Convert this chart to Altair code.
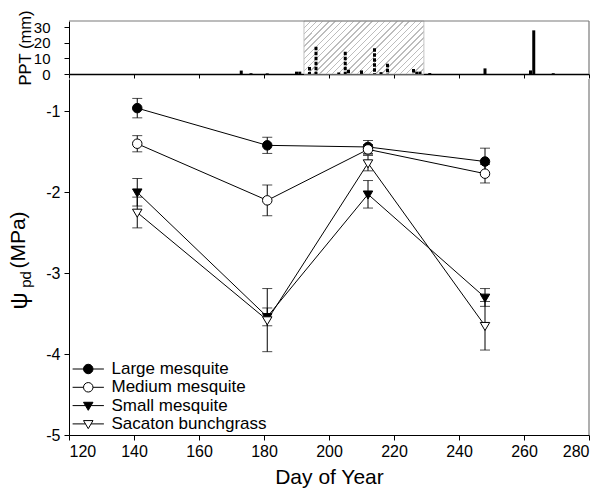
import altair as alt
import pandas as pd

FONT = "Liberation Sans"

# ---------------- data ----------------
days = [141, 181, 212, 248]
series_names = ["Large mesquite", "Medium mesquite", "Small mesquite", "Sacaton bunchgrass"]
large_mean = [-0.96, -1.42, -1.44, -1.62]
large_se = [0.12, 0.10, 0.08, 0.165]
medium_mean = [-1.40, -2.10, -1.47, -1.77]
medium_se = [0.10, 0.19, 0.06, 0.115]
small_mean = [-2.00, -3.54, -2.025, -3.30]
small_se = [0.17, 0.11, 0.17, 0.11]
sacaton_mean = [-2.25, -3.58, -1.64, -3.65]
sacaton_se = [0.19, 0.39, 0.095, 0.30]

ppt_day = [173, 176, 181, 190, 191, 194, 196, 203, 205, 206, 210, 214, 216, 218,
           226, 227, 228, 231, 248, 262, 263, 269]
ppt_mm = [2.2, 0.5, 0.4, 1.5, 1.5, 4.5, 17.5, 1.0, 14.3, 2.7, 2.3, 16.5, 1.2, 6.6,
          3.2, 1.5, 1.5, 0.6, 3.6, 2.3, 28.0, 0.5]
monsoon_start, monsoon_end = 192.3, 229.2

x_ticks = [120, 140, 160, 180, 200, 220, 240, 260, 280]
psi_ticks = [-5, -4, -3, -2, -1]
ppt_ticks = [0, 10, 20, 30]

# ---------------- tables ----------------
rows = []
for name, m, s in zip(series_names,
                      [large_mean, medium_mean, small_mean, sacaton_mean],
                      [large_se, medium_se, small_se, sacaton_se]):
    for d, v, e in zip(days, m, s):
        rows.append({"series": name, "day": d, "psi": v, "lo": v - e, "hi": v + e})
psi_df = pd.DataFrame(rows)

ppt_df = pd.DataFrame({"day": ppt_day, "mm": ppt_mm})
ppt_df["phase"] = ["wet" if monsoon_start <= d <= monsoon_end else "dry" for d in ppt_day]
window_df = pd.DataFrame({"start": [monsoon_start], "end": [monsoon_end]})
one = alt.Data(values=[{"k": 1}])

# ---------------- styles ----------------
TRI = "M-1,-0.7L1,-0.7L0,1Z"
marker_shapes = ["circle", "circle", TRI, TRI]
marker_fills = ["black", "white", "black", "white"]
LEG_CIRCLE = "M-3.3,0L-1,0M1,0L3.3,0M1,0A1,1,0,1,1,-1,0A1,1,0,1,1,1,0Z"
LEG_TRI = "M-3.3,0L-0.59,0M0.59,0L3.3,0M-1,-0.7L1,-0.7L0,1Z"
legend_shapes = [LEG_CIRCLE, LEG_CIRCLE, LEG_TRI, LEG_TRI]


def hatch(n=28, frac=0.24, fg="#bdbdbd", bg="white"):
    stops = []
    for i in range(n):
        a = i / n
        b = (i + frac) / n
        c = (i + 1) / n
        stops += [alt.GradientStop(color=fg, offset=a), alt.GradientStop(color=fg, offset=b),
                  alt.GradientStop(color=bg, offset=b), alt.GradientStop(color=bg, offset=c)]
    return alt.LinearGradient(gradient="linear", stops=stops, x1=0, y1=0, x2=1.207, y2=0.533)


x_scale = alt.Scale(domain=[120, 280], nice=False, zero=False)
W = 520

# ---------------- top panel (precipitation) ----------------
top_x_axis = alt.Axis(values=x_ticks, labels=False, title=None, tickSize=4, domainWidth=1.5)
top_y_axis = alt.Axis(values=ppt_ticks, title="PPT (mm)", labelFontSize=15, tickSize=5,
                      labelPadding=14, labelOverlap=False, titleFontSize=16.5,
                      titleX=-44, titleY=26.5, titleAngle=270, titleAlign="center",
                      titleBaseline="middle")
ppt_y_scale = alt.Scale(domain=[0, 34], nice=False)

window = alt.Chart(window_df).mark_rect(fill=hatch(), stroke="#c4c4c4", strokeWidth=1).encode(
    x=alt.X("start:Q", scale=x_scale, axis=top_x_axis), x2="end:Q",
    y=alt.value(0), y2=alt.value("height"))

dry_bars = alt.Chart(ppt_df).transform_filter(alt.datum.phase == "dry").mark_rule(
    color="black", strokeWidth=3, strokeCap="butt").encode(
    x=alt.X("day:Q", scale=x_scale, axis=top_x_axis),
    y=alt.Y("mm:Q", scale=ppt_y_scale, axis=top_y_axis), y2=alt.datum(0))

wet_bars = alt.Chart(ppt_df).transform_filter(alt.datum.phase == "wet").mark_rule(
    color="black", strokeWidth=3, strokeCap="butt", strokeDash=[3.5, 1.5]).encode(
    x=alt.X("day:Q", scale=x_scale, axis=top_x_axis),
    y=alt.Y("mm:Q", scale=ppt_y_scale, axis=top_y_axis), y2=alt.datum(0))

top_border = alt.Chart(one).mark_rule(color="#7a7a7a", strokeWidth=1.2).encode(
    x=alt.value(0), x2=alt.value("width"), y=alt.value(0))
top_right = alt.Chart(one).mark_rule(color="#7a7a7a", strokeWidth=1.2).encode(
    x=alt.value("width"), y=alt.value(0), y2=alt.value("height"))

top = alt.layer(window, dry_bars, wet_bars, top_border, top_right).properties(width=W, height=53)

# ---------------- main panel (water potential) ----------------
main_x = alt.X("day:Q", scale=x_scale,
               axis=alt.Axis(values=x_ticks, title="Day of Year", tickSize=5, labelPadding=3,
                             titlePadding=7, labelFontSize=16, titleFontSize=21))
psi_scale = alt.Scale(domain=[-5, -0.6], nice=False, zero=False)
main_y = alt.Y("psi:Q", scale=psi_scale,
               axis=alt.Axis(values=psi_ticks, title=None, labelExpr="datum.value + ''",
                             tickSize=5, labelPadding=4, labelFontSize=16))

lines = alt.Chart(psi_df).mark_line(color="black", strokeWidth=1).encode(
    x=main_x, y=main_y, detail="series:N", order="day:Q")

err = alt.Chart(psi_df).mark_rule(color="black", strokeWidth=1).encode(
    x=main_x, y=alt.Y("lo:Q", scale=psi_scale), y2="hi:Q")
cap_lo = alt.Chart(psi_df).mark_tick(orient="horizontal", color="black", thickness=1, size=10).encode(
    x=main_x, y=alt.Y("lo:Q", scale=psi_scale))
cap_hi = alt.Chart(psi_df).mark_tick(orient="horizontal", color="black", thickness=1, size=10).encode(
    x=main_x, y=alt.Y("hi:Q", scale=psi_scale))

point_layers = []
for name, shp, fl in zip(series_names, marker_shapes, marker_fills):
    point_layers.append(
        alt.Chart(psi_df).transform_filter(alt.datum.series == name).mark_point(
            shape=shp, filled=True, fill=fl, stroke="black", strokeWidth=1, size=90, opacity=1
        ).encode(x=main_x, y=main_y))

leg = alt.Legend(orient="none", legendX=10.75, legendY=339.5, title=None, labelFontSize=17,
                 labelFont=FONT, labelColor="black", symbolSize=90, symbolStrokeWidth=1,
                 symbolOpacity=1, labelOffset=14.75, rowPadding=0.3, padding=0)
legend_layer = alt.Chart(psi_df).transform_filter("false").mark_point(
    filled=True, strokeWidth=1, size=90).encode(
    x=main_x, y=main_y,
    shape=alt.Shape("series:N", scale=alt.Scale(domain=series_names, range=legend_shapes), legend=leg),
    fill=alt.Fill("series:N", scale=alt.Scale(domain=series_names, range=marker_fills), legend=leg),
    stroke=alt.Stroke("series:N", scale=alt.Scale(domain=series_names, range=["black"] * 4), legend=leg))

right_border = alt.Chart(one).mark_rule(color="#7a7a7a", strokeWidth=1.2).encode(
    x=alt.value("width"), y=alt.value(0), y2=alt.value("height"))

t_psi = alt.Chart(one).mark_text(text="ψ", angle=270, fontSize=24, font=FONT, align="center",
                                 baseline="middle", color="black").encode(
    x=alt.value(-49), y=alt.value(222))
t_pd = alt.Chart(one).mark_text(text="pd", angle=270, fontSize=15, font=FONT, align="center",
                                baseline="middle", color="black").encode(
    x=alt.value(-43), y=alt.value(200.5))
t_mpa = alt.Chart(one).mark_text(text="(MPa)", angle=270, fontSize=21, font=FONT, align="center",
                                 baseline="middle", color="black").encode(
    x=alt.value(-50), y=alt.value(161))

main = alt.layer(lines, err, cap_lo, cap_hi, *point_layers, legend_layer, right_border,
                 t_psi, t_pd, t_mpa).properties(width=W, height=356)

chart = alt.vconcat(top, main, spacing=5, bounds="flush").configure(
    font=FONT, padding={"left": 8, "top": 9, "right": 4, "bottom": 4}
).configure_view(stroke=None).configure_axis(
    grid=False, domainColor="black", tickColor="black", labelColor="black",
    titleColor="black", labelFont=FONT, titleFont=FONT, titleFontWeight="normal",
    domainWidth=1, tickWidth=1
)

chart.save("out.html", embed_options={"renderer": "svg", "actions": False})
